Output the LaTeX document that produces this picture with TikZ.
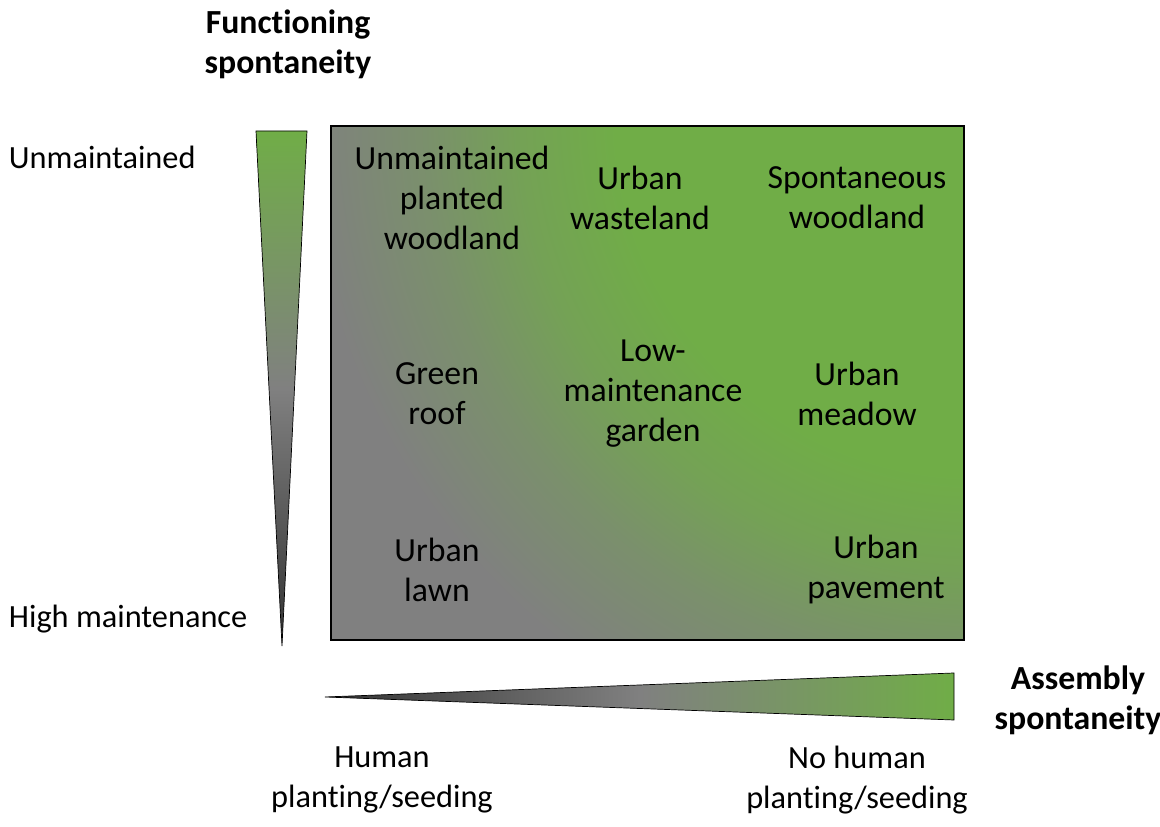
\documentclass[tikz,border=0pt]{standalone}
\usepackage{fontspec}
\setmainfont{Carlito}[Ligatures=NoCommon]
\definecolor{leafgreen}{HTML}{70AD47}
\definecolor{stonegray}{HTML}{808080}
\colorlet{mossgreen}{leafgreen!75!stonegray}
\colorlet{ashgreen}{leafgreen!35!stonegray}
\pgfdeclareradialshading{greenglow}{\pgfpoint{0bp}{0bp}}{color(0bp)=(leafgreen); color(7.5bp)=(leafgreen); color(9.5bp)=(mossgreen); color(11.5bp)=(ashgreen); color(14bp)=(stonegray); color(50bp)=(stonegray)}
\tikzset{
	cell/.style={align=center, font=\fontsize{24}{28.45}\selectfont},
	axlabel/.style={align=center, font=\fontsize{24}{28.45}\selectfont\bfseries},
	sidelabel/.style={anchor=west, font=\fontsize{23}{28.45}\selectfont},
	endlabel/.style={align=center, font=\fontsize{23}{28.45}\selectfont}
}
\begin{document}
\begin{tikzpicture}
	\useasboundingbox (0,0) rectangle (29,20.675);
	% main box
	\begin{scope}
		\clip (8.275,4.675) rectangle (24.1,17.525);
		\shade[shading=greenglow] (24.4,17.8) circle (30);
	\end{scope}
	\draw[line width=0.8pt] (8.275,4.675) rectangle (24.1,17.525);
	% wedges
	\shade[draw=black, line width=0.5pt, top color=leafgreen, bottom color=black!80, middle color=stonegray] (6.4,17.4) -- (7.675,17.4) -- (7.05,4.525) -- cycle;
	\shade[draw=black, line width=0.5pt, left color=black!80, right color=leafgreen, middle color=stonegray] (8.125,3.25) -- (23.85,3.85) -- (23.85,2.675) -- cycle;
	% cells
	\node[cell] (upw) at (11.3,15.725) {Unmaintained\\planted\\woodland};
	\node[cell] (uw) at (16,15.725) {Urban\\wasteland};
	\node[cell] (sw) at (21.425,15.725) {Spontaneous\\woodland};
	\node[cell] (gr) at (10.925,10.825) {Green\\roof};
	\node[cell] (lmg) at (16.325,10.825) {Low-\\maintenance\\garden};
	\node[cell] (um) at (21.425,10.825) {Urban\\meadow};
	\node[cell] (ul) at (10.925,6.425) {Urban\\lawn};
	\node[cell] (up) at (21.9,6.425) {Urban\\pavement};
	% axis labels
	\node[axlabel] (fs) at (7.2,19.575) {Functioning\\spontaneity};
	\node[axlabel] (as) at (26.95,3.175) {Assembly\\spontaneity};
	\node[sidelabel] (unm) at (0.1,16.75) {Unmaintained};
	\node[sidelabel] (hm) at (0.1,5.2) {High maintenance};
	\node[endlabel] (hps) at (9.55,1.175) {Human\\planting/seeding};
	\node[endlabel] (nhps) at (21.425,1.175) {No human\\planting/seeding};
\end{tikzpicture}
\end{document}
